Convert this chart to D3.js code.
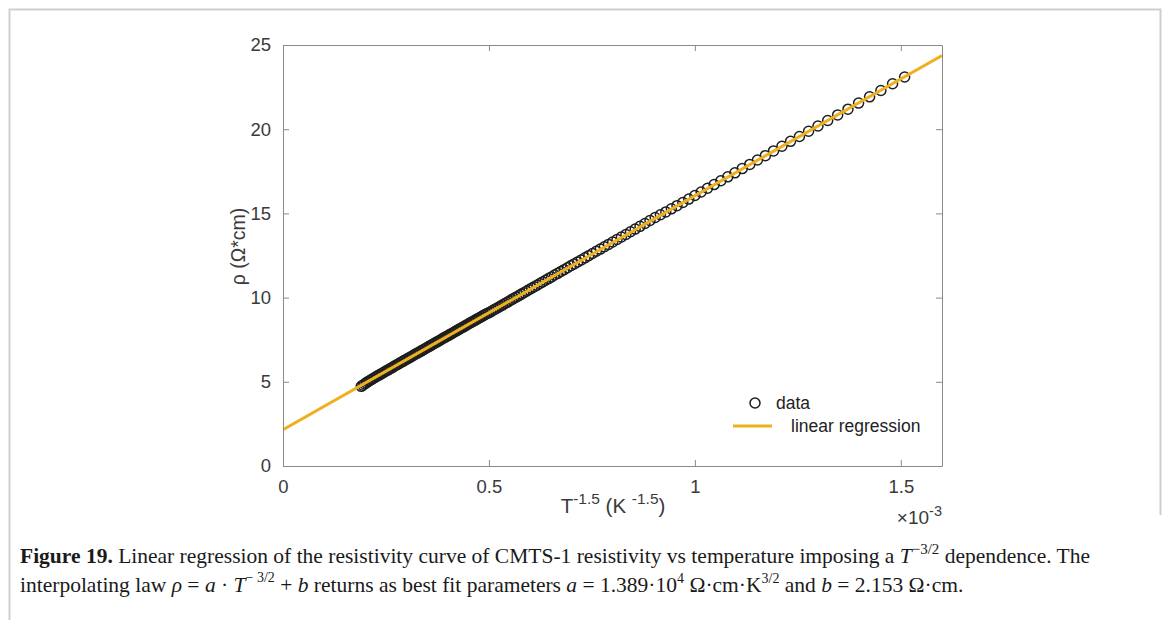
<!DOCTYPE html>
<html>
<head>
<meta charset="utf-8">
<script src="https://cdn.jsdelivr.net/npm/d3@7"></script>
<style>
  body { margin: 0; background: #fff; }
  .tick text { font-family: "Liberation Sans", Arial, sans-serif; font-size: 18.5px; fill: #3a3a3a; }
  .caption { font-family: "Liberation Serif", "Times New Roman", serif; font-size: 21.5px; fill: #1a1a1a; }
</style>
</head>
<body>
<div id="chart"></div>
<script>
// T^-1.5 values (x 1e-3 K^-1.5) and resistivity (ohm*cm)
var xDense = [0.190,0.194,0.198,0.202,0.206,0.210,0.214,0.218,0.222,0.226,0.230,0.234,0.238,0.242,0.246,0.250,
  0.254,0.258,0.262,0.266,0.270,0.274,0.278,0.282,0.286,0.290,0.294,0.298,0.302,0.306,0.310,0.314,0.318,0.322,
  0.326,0.330,0.334,0.338,0.342,0.346,0.350,0.354,0.358,0.362,0.366,0.370,0.374,0.378,0.382,0.386,0.390,0.394,
  0.398,0.402,0.406,0.410,0.414,0.418,0.422,0.426,0.430,0.434,0.438,0.442,0.446,0.450,0.454,0.458,0.462,0.466,
  0.470,0.474,0.478,0.482,0.486,0.490,0.494];
var rhoDense = [4.73,4.80,4.87,4.94,5.00,5.06,5.12,5.18,5.24,5.30,5.36,5.41,5.47,5.52,5.58,5.64,
  5.69,5.75,5.81,5.86,5.92,5.98,6.03,6.09,6.15,6.20,6.26,6.31,6.37,6.42,6.48,6.53,6.59,6.65,
  6.70,6.76,6.81,6.87,6.92,6.98,7.04,7.09,7.15,7.20,7.26,7.32,7.37,7.43,7.48,7.54,7.60,7.65,
  7.71,7.76,7.82,7.87,7.93,7.99,8.04,8.10,8.15,8.21,8.26,8.32,8.38,8.43,8.49,8.54,8.60,8.65,
  8.71,8.76,8.82,8.87,8.93,8.98,9.04];
var xSparse = [1.5093,1.4800,1.4516,1.4242,1.3975,1.3717,1.3467,1.3225,1.2989,1.2761,1.2539,1.2323,1.2114,
  1.1910,1.1712,1.1520,1.1332,1.1150,1.0973,1.0800,1.0631,1.0467,1.0308,1.0152,1.0000,0.9852,0.9707,0.9566,
  0.9429,0.9294,0.9163,0.9035,0.8910,0.8787,0.8668,0.8551,0.8437,0.8325,0.8216,0.8109,0.8004,0.7902,0.7802,
  0.7703,0.7607,0.7513,0.7421,0.7331,0.7242,0.7155,0.7070,0.6987,0.6905,0.6825,0.6747,0.6670,0.6594,0.6520,
  0.6447,0.6375,0.6305,0.6236,0.6169,0.6102,0.6037,0.5973,0.5910,0.5848,0.5787,0.5727,0.5669,0.5611,0.5554,
  0.5498,0.5443,0.5389,0.5336,0.5284,0.5233,0.5182,0.5132,0.5083,0.5035,0.4988];
var rhoSparse = [23.10,22.70,22.30,21.92,21.55,21.19,20.85,20.52,20.19,19.88,19.57,19.28,18.99,
  18.71,18.43,18.17,17.91,17.66,17.41,17.17,16.94,16.71,16.49,16.27,16.06,15.85,15.65,15.46,
  15.27,15.09,14.92,14.76,14.58,14.40,14.23,14.07,13.91,13.75,13.60,13.45,13.30,13.16,13.02,
  12.88,12.75,12.62,12.49,12.36,12.24,12.12,12.00,11.89,11.77,11.66,11.55,11.44,11.34,11.23,
  11.13,11.03,10.93,10.84,10.74,10.65,10.56,10.47,10.38,10.29,10.21,10.12,10.04,9.96,9.88,
  9.80,9.72,9.65,9.57,9.50,9.43,9.36,9.29,9.22,9.15,9.09];

// fit parameters from the caption: rho = a*T^-1.5 + b
var fitA = 1.389e4;
var fitB = 2.153;
var fitRangeX = [0, 1.6e-3];

var xTicks = [0, 0.5e-3, 1e-3, 1.5e-3];
var xTickLabels = ["0", "0.5", "1", "1.5"];
var yTicks = [0, 5, 10, 15, 20, 25];

var legendNames = ["data", "linear regression"];

var svgWidth = 1167;
var svgHeight = 620;
var margin = {top: 45, right: 225, bottom: 154, left: 283};
var width = svgWidth - margin.left - margin.right;
var height = svgHeight - margin.top - margin.bottom;

var lineColor = "#EDB120";
var axisColor = "#8a8a8a";
var textColor = "#3a3a3a";

var svg = d3.select("#chart")
  .append("svg")
  .attr("width", svgWidth)
  .attr("height", svgHeight)
  .style("font-family", "Liberation Sans, Arial, sans-serif");

svg.append("rect").attr("width", svgWidth).attr("height", svgHeight).attr("fill", "#fff");

// page frame
svg.append("path")
  .attr("d", "M9.5,620 V9.5 H1160.5 V515")
  .attr("fill", "none")
  .attr("stroke", "#cfcfcf")
  .attr("stroke-width", 2);

var chartGroup = svg.append("g")
  .attr("transform", `translate(${margin.left}, ${margin.top})`);

var xScale = d3.scaleLinear().domain([0, 1.6e-3]).range([0, width]);
var yScale = d3.scaleLinear().domain([0, 25]).range([height, 0]);

var data = xDense.map((x, i) => ({x: x * 1e-3, rho: rhoDense[i]}))
  .concat(xSparse.map((x, i) => ({x: x * 1e-3, rho: rhoSparse[i]})));

chartGroup.append("clipPath").attr("id", "clip")
  .append("rect").attr("width", width).attr("height", height);

// regression line
var fitLine = fitRangeX.map(x => ({x: x, rho: fitA * x + fitB}));
var line = d3.line().x(d => xScale(d.x)).y(d => yScale(d.rho));

// data circles
chartGroup.append("g")
  .selectAll("circle")
  .data(data)
  .enter()
  .append("circle")
  .attr("cx", d => xScale(d.x))
  .attr("cy", d => yScale(d.rho))
  .attr("r", 5)
  .attr("fill", "none")
  .attr("stroke", "#1e1e1e")
  .attr("stroke-width", 1.5);

chartGroup.append("path")
  .datum(fitLine)
  .attr("clip-path", "url(#clip)")
  .attr("d", line)
  .attr("fill", "none")
  .attr("stroke", lineColor)
  .attr("stroke-width", 3);

// axes (MATLAB style: ticks inside, box on)
var bottomAxis = d3.axisBottom(xScale).tickValues(xTicks)
  .tickFormat((d, i) => xTickLabels[i]).tickSizeInner(-6).tickSizeOuter(0).tickPadding(14);
var leftAxis = d3.axisLeft(yScale).tickValues(yTicks).tickSizeInner(-6).tickSizeOuter(0).tickPadding(12);
var topAxis = d3.axisTop(xScale).tickValues(xTicks).tickFormat("").tickSizeInner(-6).tickSizeOuter(0);
var rightAxis = d3.axisRight(yScale).tickValues(yTicks).tickFormat("").tickSizeInner(-6).tickSizeOuter(0);

var gx = chartGroup.append("g").attr("transform", `translate(0, ${height})`).call(bottomAxis);
var gy = chartGroup.append("g").call(leftAxis);
var gt = chartGroup.append("g").call(topAxis);
var gr = chartGroup.append("g").attr("transform", `translate(${width}, 0)`).call(rightAxis);
[gx, gy, gt, gr].forEach(g => {
  g.selectAll("path, line").attr("stroke", axisColor);
});
gx.selectAll("text").attr("dy", "0.71em");

// x10^-3 exponent label
var expo = chartGroup.append("text")
  .attr("x", width)
  .attr("y", height + 58)
  .attr("text-anchor", "end")
  .attr("fill", textColor)
  .attr("font-size", 19);
expo.append("tspan").text("\u00d710");
expo.append("tspan").attr("font-size", 14.5).attr("dy", -8).text("-3");

// axis labels
var xLabel = chartGroup.append("text")
  .attr("x", 330)
  .attr("y", height + 47)
  .attr("text-anchor", "middle")
  .attr("fill", textColor)
  .attr("font-size", 20.5);
xLabel.append("tspan").text("T");
xLabel.append("tspan").attr("font-size", 15.5).attr("dy", -9).text("-1.5");
xLabel.append("tspan").attr("dy", 9).text(" (K ");
xLabel.append("tspan").attr("font-size", 15.5).attr("dy", -9).text("-1.5");
xLabel.append("tspan").attr("dy", 9).text(")");

chartGroup.append("text")
  .attr("transform", "rotate(-90)")
  .attr("x", -height / 2 + 9)
  .attr("y", -38)
  .attr("text-anchor", "middle")
  .attr("fill", textColor)
  .attr("font-size", 19.5)
  .text("\u03c1 (\u03a9*cm)");

// legend
var legend = chartGroup.append("g").attr("transform", `translate(${width - 209}, ${height - 74})`);
legend.append("circle").attr("cx", 22).attr("cy", 11).attr("r", 5)
  .attr("fill", "none").attr("stroke", "#1e1e1e").attr("stroke-width", 1.5);
legend.append("text").attr("x", 43).attr("y", 17).attr("font-size", 17.5).attr("fill", "#222").text(legendNames[0]);
legend.append("line").attr("x1", 0).attr("x2", 39).attr("y1", 34).attr("y2", 34)
  .attr("stroke", lineColor).attr("stroke-width", 3);
legend.append("text").attr("x", 58).attr("y", 40).attr("font-size", 17.5).attr("fill", "#222").text(legendNames[1]);

// caption
var cap1 = svg.append("text").attr("class", "caption").attr("x", 20).attr("y", 563);
cap1.append("tspan").attr("font-weight", "bold").text("Figure 19.");
cap1.append("tspan").text(" Linear regression of the resistivity curve of CMTS-1 resistivity vs temperature imposing a ");
cap1.append("tspan").attr("font-style", "italic").text("T");
cap1.append("tspan").attr("font-size", 15).attr("dy", -9).text("\u22123/2");
cap1.append("tspan").attr("dy", 9).text(" dependence. The");

var cap2 = svg.append("text").attr("class", "caption").attr("x", 20).attr("y", 592);
cap2.append("tspan").text("interpolating law ");
cap2.append("tspan").attr("font-style", "italic").text("\u03c1");
cap2.append("tspan").text(" = ");
cap2.append("tspan").attr("font-style", "italic").text("a");
cap2.append("tspan").text(" \u00b7 ");
cap2.append("tspan").attr("font-style", "italic").text("T");
cap2.append("tspan").attr("font-size", 14).attr("dy", -10).text("\u2212 3/2");
cap2.append("tspan").attr("dy", 10).text(" + ");
cap2.append("tspan").attr("font-style", "italic").text("b");
cap2.append("tspan").text(" returns as best fit parameters ");
cap2.append("tspan").attr("font-style", "italic").text("a");
cap2.append("tspan").text(" = 1.389\u00b710");
cap2.append("tspan").attr("font-size", 14).attr("dy", -9).text("4");
cap2.append("tspan").attr("dy", 9).text(" \u03a9\u00b7cm\u00b7K");
cap2.append("tspan").attr("font-size", 14).attr("dy", -9).text("3/2");
cap2.append("tspan").attr("dy", 9).text(" and ");
cap2.append("tspan").attr("font-style", "italic").text("b");
cap2.append("tspan").text(" = 2.153 \u03a9\u00b7cm.");
</script>
</body>
</html>
